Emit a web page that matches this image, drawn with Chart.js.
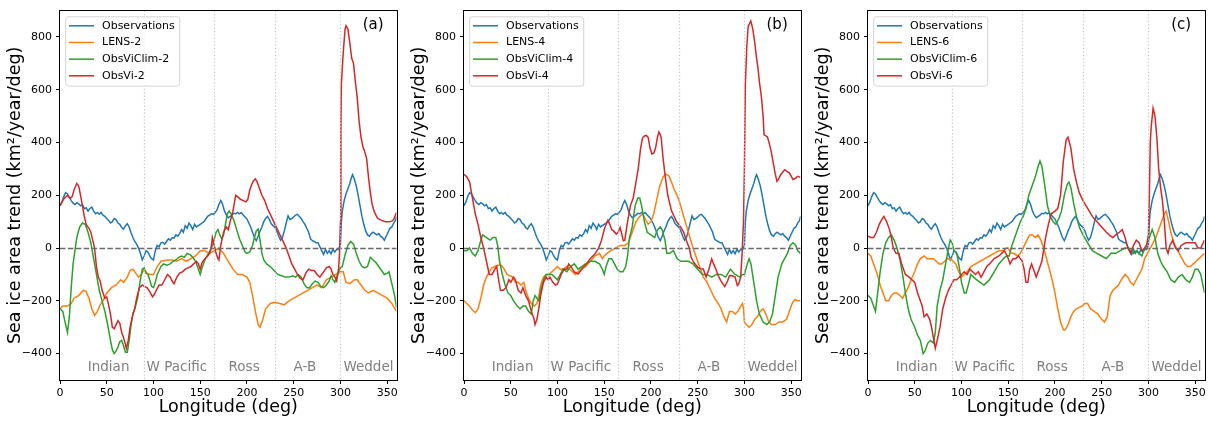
<!DOCTYPE html>
<html>
<head>
<meta charset="utf-8">
<script src="https://cdn.jsdelivr.net/npm/chart.js@4.4.0/dist/chart.umd.min.js"></script>
<style>
	body { margin: 0; background: #fff; }
	#root { position: relative; width: 1209px; height: 423px; }
	#root canvas { position: absolute; top: 0; }
</style>
</head>
<body>
<div id="root">
	<canvas id="panel-a" width="404" height="423" style="left:0px"></canvas>
	<canvas id="panel-b" width="404" height="423" style="left:404px"></canvas>
	<canvas id="panel-c" width="404" height="423" style="left:808px"></canvas>
</div>
<script>
const xTicks = [0, 50, 100, 150, 200, 250, 300, 350];
const yTicks = [-400, -200, 0, 200, 400, 600, 800];
const regionEdges = [90, 165, 230, 300];
const regionNames = ['Indian', 'W Pacific', 'Ross', 'A-B', 'Weddel'];
const regionCentres = [52, 125, 197, 262, 330];
const panelLetters = ['(a)', '(b)', '(c)'];
const seriesColors = ['#1f77b4', '#ff7f0e', '#2ca02c', '#d62728'];

// [longitude, trend] pairs
const observations = [[0,160],[2,175],[4,195],[6,210],[8,205],[10,192],[12,180],[14,170],[16,165],[18,172],[20,168],[22,160],[24,165],[26,150],[28,152],[30,140],[32,150],[34,155],[36,140],[38,130],[40,135],[42,128],[44,135],[46,125],[48,120],[50,112],[52,105],[54,95],[56,100],[58,112],[60,108],[62,95],[64,90],[66,78],[68,72],[70,85],[72,92],[74,80],[76,58],[78,40],[80,25],[82,15],[84,0],[86,-20],[88,-45],[90,-30],[92,-10],[94,-15],[96,-30],[98,-40],[100,-45],[102,-10],[104,10],[106,5],[108,20],[110,22],[112,15],[114,25],[116,35],[118,30],[120,40],[122,38],[124,50],[126,45],[128,55],[130,70],[132,60],[134,85],[136,75],[138,95],[140,85],[142,70],[144,90],[146,80],[148,85],[150,90],[152,95],[154,100],[156,110],[158,120],[160,125],[162,130],[164,128],[166,135],[168,145],[170,165],[172,180],[174,165],[176,140],[178,125],[180,115],[182,120],[184,125],[186,132],[188,130],[190,135],[192,130],[194,135],[196,125],[198,118],[200,110],[202,95],[204,80],[206,60],[208,40],[210,28],[212,45],[214,65],[216,80],[218,100],[220,112],[222,120],[224,108],[226,92],[228,85],[230,78],[232,65],[234,45],[236,30],[238,40],[240,65],[242,95],[244,122],[246,108],[248,112],[250,118],[252,125],[254,128],[256,120],[258,112],[260,100],[262,90],[264,75],[266,60],[268,35],[270,28],[272,25],[274,20],[276,20],[278,5],[280,-10],[282,-24],[284,-5],[286,-20],[288,-10],[290,-22],[292,-5],[294,-15],[296,-5],[298,-5],[300,10],[301,100],[302,140],[304,180],[306,205],[308,225],[310,245],[312,270],[313,278],[315,260],[317,235],[319,200],[321,160],[323,120],[325,90],[327,65],[329,50],[331,45],[333,55],[335,60],[337,55],[339,50],[341,55],[343,45],[345,40],[347,30],[349,45],[351,60],[353,75],[355,80],[357,95],[359,105],[360,120]];

const lens2 = [[0,-230],[3,-220],[8,-220],[12,-210],[15,-190],[20,-180],[25,-160],[28,-165],[31,-190],[34,-230],[37,-255],[40,-240],[43,-215],[46,-200],[50,-170],[55,-150],[60,-140],[65,-120],[68,-130],[72,-110],[75,-85],[78,-80],[81,-95],[84,-110],[87,-100],[90,-80],[93,-95],[96,-100],[100,-100],[104,-70],[108,-50],[115,-45],[120,-45],[125,-50],[130,-40],[135,-50],[140,-40],[145,-30],[150,-10],[155,-10],[160,-20],[165,-10],[170,0],[175,-20],[180,-50],[185,-80],[190,-100],[195,-100],[200,-110],[203,-130],[206,-180],[209,-240],[212,-290],[214,-300],[217,-270],[220,-230],[225,-210],[230,-205],[235,-210],[240,-215],[245,-200],[250,-190],[255,-180],[260,-170],[265,-160],[270,-150],[275,-140],[280,-150],[285,-120],[290,-110],[295,-100],[300,-90],[303,-90],[306,-130],[310,-135],[315,-120],[318,-120],[322,-140],[326,-160],[330,-170],[335,-160],[340,-170],[345,-180],[350,-190],[355,-210],[360,-240]];
const obsViClim2 = [[0,-230],[3,-240],[6,-290],[8,-320],[10,-260],[12,-150],[14,-60],[16,-10],[18,40],[21,80],[24,95],[27,90],[30,60],[33,20],[36,-40],[39,-100],[42,-160],[45,-200],[48,-240],[51,-290],[54,-350],[56,-385],[58,-400],[60,-390],[62,-375],[64,-355],[66,-350],[68,-370],[70,-395],[72,-395],[74,-350],[76,-290],[78,-250],[80,-230],[83,-190],[86,-120],[88,-80],[90,-75],[92,-95],[94,-100],[96,-120],[98,-145],[100,-150],[102,-130],[104,-100],[106,-85],[108,-70],[111,-60],[114,-65],[118,-60],[121,-50],[124,-45],[127,-35],[130,-30],[133,-35],[136,-20],[139,-25],[142,-35],[145,-50],[148,-80],[150,-100],[152,-75],[155,-45],[158,-25],[161,-10],[164,20],[167,60],[169,70],[171,50],[173,35],[175,50],[177,90],[179,130],[181,140],[183,130],[186,105],[189,70],[192,35],[195,10],[198,-15],[200,-20],[203,-15],[206,10],[208,40],[210,65],[212,72],[214,30],[216,-20],[218,-45],[221,-60],[225,-70],[229,-85],[233,-100],[237,-105],[241,-110],[245,-110],[249,-105],[252,-110],[255,-100],[258,-110],[261,-135],[264,-150],[267,-150],[270,-135],[273,-125],[276,-130],[279,-145],[282,-150],[285,-140],[288,-125],[290,-105],[292,-120],[294,-130],[296,-110],[298,-90],[300,-75],[302,-70],[305,-25],[308,10],[311,25],[314,15],[317,-20],[320,-50],[323,-70],[326,-75],[329,-70],[332,-35],[335,-45],[338,-55],[341,-70],[344,-85],[347,-100],[350,-95],[352,-90],[355,-135],[358,-180],[360,-225]];
const obsVi2 = [[0,160],[3,180],[5,190],[8,200],[11,188],[13,195],[15,220],[18,245],[20,235],[22,200],[24,160],[26,120],[28,90],[31,75],[33,60],[35,30],[37,0],[39,-70],[41,-110],[43,-125],[45,-160],[48,-190],[50,-185],[52,-215],[54,-250],[56,-300],[58,-305],[60,-290],[62,-275],[64,-285],[66,-320],[68,-340],[70,-365],[71,-380],[73,-350],[75,-300],[78,-250],[80,-230],[82,-190],[85,-150],[88,-140],[90,-145],[93,-150],[96,-165],[99,-185],[101,-175],[103,-160],[106,-140],[109,-140],[112,-120],[115,-100],[118,-110],[120,-125],[122,-135],[125,-110],[128,-95],[131,-90],[134,-80],[137,-75],[140,-70],[143,-60],[146,-50],[148,-60],[150,-80],[152,-55],[155,-40],[158,-30],[160,-20],[162,10],[163,40],[165,10],[167,-20],[169,-40],[170,-45],[172,10],[175,60],[178,80],[180,70],[182,100],[185,140],[188,200],[190,195],[193,185],[196,180],[199,175],[201,185],[203,220],[205,240],[207,255],[209,262],[211,250],[213,230],[216,200],[219,180],[222,150],[226,120],[230,90],[234,60],[238,30],[242,0],[245,-30],[248,-60],[251,-80],[254,-100],[257,-115],[260,-120],[263,-95],[266,-80],[269,-85],[272,-85],[275,-100],[278,-110],[280,-100],[282,-90],[285,-75],[288,-70],[290,-80],[292,-100],[294,-110],[296,-125],[298,-80],[299,-20],[300,100],[300.5,450],[301,620],[303,740],[305,830],[306,843],[308,830],[310,780],[312,720],[314,700],[316,630],[318,570],[320,480],[322,420],[324,385],[326,365],[328,340],[330,270],[332,210],[334,165],[336,140],[338,125],[340,112],[344,105],[348,100],[352,100],[355,102],[357,108],[360,135]];

const lens4 = [[0,-200],[3,-210],[6,-220],[9,-235],[12,-245],[15,-230],[18,-190],[21,-140],[24,-110],[27,-90],[30,-75],[33,-70],[36,-65],[40,-65],[43,-80],[46,-100],[49,-105],[52,-110],[55,-130],[58,-130],[61,-140],[64,-130],[66,-160],[69,-190],[72,-210],[75,-220],[78,-210],[80,-180],[82,-140],[85,-110],[88,-100],[91,-100],[94,-90],[97,-80],[100,-70],[103,-80],[106,-80],[110,-70],[113,-80],[116,-90],[119,-100],[122,-90],[125,-80],[130,-70],[135,-50],[140,-30],[145,-20],[148,-40],[150,-30],[153,-20],[157,-10],[162,0],[167,10],[172,10],[176,20],[180,60],[184,100],[188,120],[191,130],[194,110],[197,90],[200,100],[203,130],[206,180],[209,230],[213,270],[216,280],[219,275],[222,250],[225,220],[228,200],[231,170],[235,120],[240,60],[245,0],[250,-50],[253,-80],[256,-110],[260,-130],[264,-160],[268,-190],[272,-210],[275,-230],[278,-260],[281,-280],[284,-240],[287,-240],[290,-250],[293,-240],[296,-220],[298,-210],[299,-230],[300,-280],[302,-290],[305,-300],[308,-290],[311,-270],[314,-260],[317,-240],[320,-230],[323,-250],[326,-280],[329,-290],[333,-290],[337,-280],[341,-280],[345,-270],[348,-240],[351,-210],[354,-195],[357,-200],[360,-200]];
const obsViClim4 = [[0,-10],[3,-10],[6,0],[9,-20],[12,-30],[15,-10],[18,30],[20,50],[24,40],[28,30],[31,40],[34,40],[36,10],[38,-50],[41,-100],[44,-140],[47,-170],[50,-180],[53,-200],[57,-220],[60,-230],[63,-220],[66,-220],[69,-240],[72,-250],[74,-200],[76,-180],[78,-190],[80,-200],[82,-160],[85,-120],[88,-100],[91,-100],[94,-100],[97,-110],[100,-120],[103,-100],[106,-80],[110,-90],[114,-70],[118,-60],[122,-80],[126,-70],[130,-60],[135,-50],[140,-50],[145,-60],[148,-80],[150,-100],[152,-70],[155,-40],[158,-40],[161,-60],[164,-80],[167,-90],[170,-90],[173,-70],[175,-30],[177,40],[180,80],[183,160],[186,190],[188,190],[190,160],[193,100],[196,60],[200,50],[204,40],[207,70],[210,80],[212,70],[215,30],[217,-20],[220,-20],[224,-10],[228,-40],[232,-50],[236,-50],[240,-50],[245,-60],[250,-80],[255,-100],[260,-100],[265,-110],[270,-100],[275,-100],[280,-110],[285,-80],[290,-100],[295,-110],[298,-100],[300,-100],[303,-60],[305,-40],[307,-60],[310,-130],[313,-200],[316,-250],[320,-280],[324,-290],[327,-280],[330,-250],[333,-180],[336,-110],[340,-60],[343,-40],[346,-20],[349,10],[352,20],[355,10],[357,-10],[360,-20]];
const obsVi4 = [[0,280],[3,270],[6,250],[8,210],[10,170],[12,130],[15,90],[18,40],[21,0],[24,-50],[27,-100],[30,-100],[33,-80],[35,-70],[37,-120],[39,-160],[42,-160],[45,-150],[48,-120],[50,-130],[53,-110],[55,-120],[58,-160],[61,-170],[63,-150],[66,-180],[69,-200],[72,-240],[75,-270],[76,-290],[78,-270],[80,-230],[82,-180],[85,-130],[88,-110],[90,-120],[92,-110],[95,-130],[98,-140],[100,-136],[104,-100],[107,-80],[110,-80],[112,-60],[115,-73],[118,-90],[122,-98],[126,-80],[131,-60],[135,-40],[140,-23],[144,0],[147,28],[150,70],[152,90],[154,105],[156,90],[158,70],[160,65],[163,53],[165,60],[167,78],[169,50],[170.5,28],[172,30],[175,100],[178,160],[181,190],[184,250],[186.5,304],[189,380],[191,417],[193,425],[195,427],[197,420],[199,380],[201,357],[203,360],[205,380],[207,420],[208.5,440],[210,430],[211,417],[213,340],[215,279],[218,200],[222,141],[227,103],[232,78],[235,60],[238,28],[241,0],[243,-35],[246,-55],[250,-73],[253,-78],[256,-79],[259,-110],[262,-80],[265,-41],[267,-60],[270,-85],[272,-105],[275,-125],[279,-146],[282,-125],[284,-104],[287,-105],[290,-110],[292.5,-142],[294,-135],[296,-110],[297.5,-22],[299,100],[300,300],[301,620],[302.5,760],[304,840],[306.8,861],[309,830],[311,780],[313,720],[314.6,680],[316,630],[318,579],[320,500],[321,429],[323,425],[324.6,422],[327,391],[329,360],[330.6,328],[333,280],[334.9,253],[337,265],[338.8,278],[343,297],[346,290],[348,285],[352,260],[355,265],[357,272],[360,268]];

const lens6 = [[0,-20],[3,-30],[6,-60],[10,-100],[13,-140],[16,-170],[19,-200],[22,-200],[25,-180],[28,-170],[31,-170],[34,-180],[37,-190],[40,-170],[43,-150],[46,-120],[50,-90],[53,-60],[56,-40],[60,-30],[63,-40],[66,-40],[70,-40],[73,-50],[76,-60],[79,-60],[82,-50],[85,-40],[88,-40],[91,-50],[94,-60],[97,-90],[100,-110],[103,-100],[106,-90],[110,-70],[115,-60],[120,-50],[125,-40],[130,-30],[135,-20],[140,-10],[145,-10],[148,0],[150,0],[153,-20],[156,-20],[160,-30],[163,-20],[166,0],[170,30],[173,50],[176,50],[179,40],[182,50],[185,30],[188,0],[191,-40],[194,-80],[197,-120],[200,-170],[203,-230],[206,-280],[209,-310],[211,-310],[214,-290],[217,-260],[220,-240],[223,-230],[226,-225],[229,-220],[232,-210],[235,-210],[238,-230],[242,-240],[246,-250],[250,-270],[253,-280],[256,-260],[259,-180],[262,-160],[265,-150],[268,-140],[271,-120],[275,-100],[278,-110],[281,-130],[284,-140],[287,-120],[290,-100],[293,-80],[296,-40],[299,-20],[302,0],[305,20],[308,40],[311,70],[314,100],[317,130],[319,140],[321,110],[324,60],[327,20],[330,0],[333,-20],[336,-40],[339,-60],[342,-70],[345,-70],[348,-60],[351,-50],[354,-40],[357,-30],[360,-20]];
const obsViClim6 = [[0,-180],[3,-190],[6,-220],[8,-240],[10,-180],[13,-90],[16,-20],[19,20],[22,40],[25,50],[28,30],[31,0],[34,-40],[37,-100],[40,-170],[43,-230],[46,-270],[50,-300],[53,-330],[56,-350],[59,-400],[61,-390],[64,-360],[67,-350],[70,-360],[72,-320],[74,-220],[77,-160],[80,-120],[83,-60],[86,0],[88,30],[90,20],[92,-10],[95,-20],[98,-80],[100,-130],[103,-170],[105,-170],[108,-130],[110,-100],[113,-110],[116,-120],[120,-130],[124,-140],[127,-130],[130,-120],[135,-90],[140,-60],[145,-40],[148,-30],[151,-30],[154,10],[157,40],[160,70],[163,100],[166,120],[169,150],[172,200],[176,240],[179,270],[182,310],[184,330],[186,310],[189,240],[192,160],[195,120],[198,100],[201,90],[204,110],[207,140],[210,200],[213,240],[215,250],[217,230],[220,170],[223,120],[226,80],[230,50],[235,20],[240,-10],[245,-20],[250,-30],[255,-40],[260,-20],[265,-20],[270,-10],[275,0],[278,0],[281,-10],[284,-20],[287,-10],[290,-20],[293,-30],[296,0],[299,20],[302,50],[304,70],[307,40],[310,-20],[313,-50],[316,-70],[320,-90],[324,-120],[328,-130],[332,-110],[336,-100],[340,-120],[344,-130],[347,-110],[350,-80],[353,-80],[356,-100],[360,-170]];
const obsVi6 = [[0,45],[3,40],[6,40],[9,60],[12,90],[15,110],[17,120],[20,100],[23,70],[25,40],[27,0],[30,-20],[33,-20],[36,-60],[40,-100],[44,-110],[47,-120],[50,-130],[53,-170],[56,-200],[58,-220],[60,-260],[63,-250],[66,-270],[68,-300],[70,-340],[72,-380],[74,-350],[77,-300],[80,-230],[83,-190],[86,-160],[89,-140],[92,-120],[95,-120],[98,-110],[100,-100],[103,-90],[106,-100],[109,-80],[112,-90],[115,-100],[118,-90],[121,-110],[124,-90],[127,-70],[130,-60],[135,-40],[140,-30],[143,-20],[146,-10],[149,-30],[152,-60],[155,-40],[158,-40],[161,-30],[163,-40],[165,-50],[167,-80],[169,-130],[171,-130],[173,-80],[175,-60],[177,-80],[180,-110],[183,-80],[186,-50],[190,40],[193,90],[196,130],[200,140],[203,150],[206,200],[209,330],[212,410],[214,420],[217,380],[220,300],[223,250],[226,210],[230,180],[235,150],[240,120],[245,100],[250,80],[255,60],[258,50],[262,40],[265,50],[269,60],[272,70],[275,40],[278,0],[281,-20],[284,10],[287,30],[290,20],[293,-10],[296,0],[298,10],[300,50],[301,200],[302,400],[303,460],[305,530],[307,500],[309,420],[311,300],[313,230],[315,180],[317,100],[319,0],[321,-20],[323,10],[326,30],[329,0],[332,-10],[335,10],[340,20],[345,20],[350,20],[353,0],[356,0],[360,30]];

const panels = [
	{ id: 'panel-a', run: '2', series: [observations, lens2, obsViClim2, obsVi2] },
	{ id: 'panel-b', run: '4', series: [observations, lens4, obsViClim4, obsVi4] },
	{ id: 'panel-c', run: '6', series: [observations, lens6, obsViClim6, obsVi6] }
];

Chart.defaults.font.family = '"DejaVu Sans", sans-serif';
Chart.defaults.color = '#000';

function minusLabel(v) {
	return v < 0 ? '\u2212' + Math.abs(v) : String(v);
}

const decor = {
	id: 'decor',
	afterDatasetsDraw(chart) {
		const { ctx, chartArea: a, scales: { x, y } } = chart;
		ctx.save();

		// zero line
		const y0 = Math.round(y.getPixelForValue(0)) + 0.5;
		ctx.strokeStyle = '#6a6a6a';
		ctx.lineWidth = 1.5;
		ctx.setLineDash([5.5, 2.4]);
		ctx.beginPath();
		ctx.moveTo(a.left, y0);
		ctx.lineTo(a.right, y0);
		ctx.stroke();

		// sector boundaries
		ctx.strokeStyle = '#c4c4c4';
		ctx.lineWidth = 1.2;
		ctx.setLineDash([1.2, 2.2]);
		regionEdges.forEach(lon => {
			const px = Math.round(x.getPixelForValue(lon)) + 0.5;
			ctx.beginPath();
			ctx.moveTo(px, a.top);
			ctx.lineTo(px, a.bottom);
			ctx.stroke();
		});
		ctx.setLineDash([]);

		ctx.fillStyle = '#808080';
		ctx.font = '13.5px "DejaVu Sans"';
		ctx.textAlign = 'center';
		ctx.textBaseline = 'middle';
		regionNames.forEach((name, i) => {
			ctx.fillText(name, x.getPixelForValue(regionCentres[i]), y.getPixelForValue(-451));
		});

		ctx.fillStyle = '#000';
		ctx.font = '15px "DejaVu Sans"';
		ctx.fillText(chart.options.plugins.decor.letter, x.getPixelForValue(335), y.getPixelForValue(845));

		// frame
		ctx.strokeStyle = '#000';
		ctx.lineWidth = 1;
		ctx.strokeRect(Math.round(a.left) - 0.5, Math.round(a.top) - 0.5, Math.round(a.right - a.left) + 1, Math.round(a.bottom - a.top) + 1);
		ctx.restore();
	},
	afterDraw(chart) {
		const { ctx, chartArea: a } = chart;
		const sets = chart.data.datasets;
		ctx.save();
		ctx.font = '11px "DejaVu Sans"';
		const textW = Math.max(...sets.map(d => ctx.measureText(d.label).width));
		const left = a.left + 5.7, top = a.top + 6.2;
		const w = 36.3 + textW + 5, h = 69.3, r = 2.5;

		ctx.beginPath();
		ctx.moveTo(left + r, top);
		ctx.arcTo(left + w, top, left + w, top + h, r);
		ctx.arcTo(left + w, top + h, left, top + h, r);
		ctx.arcTo(left, top + h, left, top, r);
		ctx.arcTo(left, top, left + w, top, r);
		ctx.closePath();
		ctx.fillStyle = 'rgba(255,255,255,0.8)';
		ctx.fill();
		ctx.strokeStyle = '#d4d4d4';
		ctx.lineWidth = 1;
		ctx.stroke();

		ctx.textAlign = 'left';
		ctx.textBaseline = 'middle';
		sets.forEach((d, i) => {
			const yy = top + 9 + i * 16.67;
			ctx.strokeStyle = d.borderColor;
			ctx.lineWidth = 1.5;
			ctx.beginPath();
			ctx.moveTo(left + 3.3, yy);
			ctx.lineTo(left + 28.3, yy);
			ctx.stroke();
			ctx.fillStyle = '#000';
			ctx.fillText(d.label, left + 36.3, yy);
		});
		ctx.restore();
	}
};

function make(panel, idx) {
	const ctx = document.getElementById(panel.id);
	const labels = ['Observations', 'LENS-' + panel.run, 'ObsViClim-' + panel.run, 'ObsVi-' + panel.run];

	return new Chart(ctx, {
		type: 'line',
		data: {
			datasets: panel.series.map((s, i) => ({
				label: labels[i],
				data: s.map(p => ({ x: p[0], y: p[1] })),
				borderColor: seriesColors[i],
				borderWidth: 1.5,
				pointRadius: 0,
				tension: 0,
				order: 4 - i
			}))
		},
		options: {
			responsive: false,
			animation: false,
			devicePixelRatio: 1,
			layout: { padding: { top: 8.5, right: 7.5, left: 0, bottom: 0 } },
			plugins: {
				legend: { display: false },
				tooltip: { enabled: false },
				decor: { letter: panelLetters[idx] }
			},
			scales: {
				x: {
					type: 'linear',
					min: 0,
					max: 360,
					afterBuildTicks: scale => { scale.ticks = xTicks.map(v => ({ value: v })); },
					afterFit: scale => { scale.height = 43; },
					ticks: { font: { size: 11 }, padding: 3, maxRotation: 0, color: '#000' },
					grid: { drawOnChartArea: false, tickLength: 4, color: '#000' },
					border: { display: false },
					title: { display: true, text: 'Longitude (deg)', font: { size: 17.5 }, padding: { top: 0, bottom: 5 } }
				},
				y: {
					min: -500,
					max: 900,
					afterBuildTicks: scale => { scale.ticks = yTicks.map(v => ({ value: v })); },
					afterFit: scale => { scale.width = 60; },
					ticks: { font: { size: 11 }, padding: 4, color: '#000', callback: v => minusLabel(v) },
					grid: { drawOnChartArea: false, tickLength: 4, color: '#000' },
					border: { display: false },
					title: { display: true, text: 'Sea ice area trend (km\u00b2/year/deg)', font: { size: 17.5 }, padding: { top: 4.5, bottom: 0 } }
				}
			}
		},
		plugins: [decor]
	});
}

panels.forEach(make);
</script>
</body>
</html>
